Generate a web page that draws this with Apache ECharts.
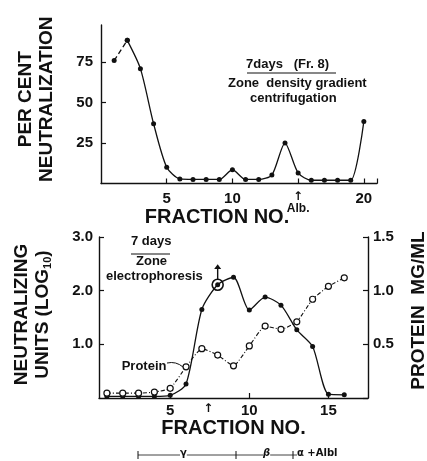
<!DOCTYPE html>
<html>
<head>
<meta charset="utf-8">
<script src="https://cdn.jsdelivr.net/npm/echarts@6/dist/echarts.min.js"></script>
<style>
  html, body { margin: 0; padding: 0; background: #fff; }
  #chart { width: 427px; height: 461px; }
</style>
</head>
<body>
<div id="chart"></div>
<script>
// top panel: zone density gradient centrifugation
var topFractions = [1, 2, 3, 4, 5, 6, 7, 8, 9, 10, 11, 12, 13, 14, 15, 16, 17, 18, 19, 20];
var topNeutral = [76, 88.5, 71, 37, 10, 2.8, 2.5, 2.5, 2.5, 8.5, 2.5, 2.5, 5.2, 25, 6.5, 2, 2, 2, 2, 38.4];
var topYTicks = [25, 50, 75];
var topXTicks = [5, 10, 15, 20];

// bottom panel: zone electrophoresis
var botFractions = [1, 2, 3, 4, 5, 6, 7, 8, 9, 10, 11, 12, 13, 14, 15, 16];
var neutUnits = [0.03, 0.03, 0.03, 0.03, 0.05, 0.26, 1.65, 2.11, 2.25, 1.64, 1.88, 1.73, 1.27, 0.96, 0.07, 0.06];
var protein = [0.045, 0.045, 0.045, 0.055, 0.09, 0.29, 0.46, 0.4, 0.3, 0.485, 0.67, 0.64, 0.71, 0.92, 1.04, 1.12];
var botXTicks = [5, 10, 15];
var arrowFraction = 7.4;

var FONT = 'Liberation Sans';
var INK = '#111';

function pairs(xs, ys) {
    return xs.map(function (x, i) { return [x, ys[i]]; });
}

var chart = echarts.init(document.getElementById('chart'));

var axisBase = {
    axisLine: { show: true, lineStyle: { color: INK, width: 1.4 } },
    axisTick: { show: true, inside: true, length: 5, lineStyle: { color: INK, width: 1.2 } },
    splitLine: { show: false }
};

var topData = pairs(topFractions, topNeutral);
var botNeut = pairs(botFractions, neutUnits);
var botProt = pairs(botFractions, protein);

// label "Protein" hanging off fraction 6
botProt[5] = {
    value: botProt[5],
    label: {
        show: true, position: 'left', distance: 16,
        formatter: 'Protein', fontFamily: FONT, fontSize: 13, fontWeight: 'bold', color: INK
    }
};

var option = {
    backgroundColor: '#fff',
    animation: false,
    grid: [
        { left: 101, top: 25, width: 276, height: 158.5, outerBoundsMode: 'none' },
        { left: 99, top: 237, width: 269, height: 161, outerBoundsMode: 'none' }
    ],
    xAxis: [
        Object.assign({}, axisBase, {
            type: 'value', gridIndex: 0, min: 0, max: 21,
            axisTick: Object.assign({}, axisBase.axisTick, { customValues: topXTicks.concat([21]) }),
            axisLabel: {
                customValues: topXTicks, margin: 8,
                fontFamily: FONT, fontSize: 15, fontWeight: 'bold', color: INK,
                formatter: function (v) {
                    if (v === 15) return '{a|↑}\n{b|Alb.}';
                    return String(v);
                },
                rich: {
                    a: { fontSize: 12, fontWeight: 'bold', color: INK, lineHeight: 11, fontFamily: 'DejaVu Sans' },
                    b: { fontSize: 12, fontWeight: 'bold', color: INK, fontFamily: FONT, lineHeight: 13 }
                }
            },
            name: 'FRACTION NO.', nameLocation: 'middle', nameGap: 24, nameMoveOverlap: false,
            nameTextStyle: { fontFamily: FONT, fontSize: 20, fontWeight: 'bold', color: INK, padding: [0, 44, 0, 0] }
        }),
        Object.assign({}, axisBase, {
            type: 'value', gridIndex: 1, min: 0.5, max: 17.5,
            axisTick: Object.assign({}, axisBase.axisTick, { customValues: botXTicks }),
            axisLabel: {
                customValues: [5, arrowFraction, 10, 15], margin: 5,
                fontFamily: FONT, fontSize: 15, fontWeight: 'bold', color: INK,
                formatter: function (v) {
                    if (v === arrowFraction) return '{a|↑}';
                    return String(v);
                },
                rich: { a: { fontSize: 12, fontWeight: 'bold', color: INK, fontFamily: 'DejaVu Sans' } }
            },
            name: 'FRACTION NO.', nameLocation: 'middle', nameGap: 20,
            nameTextStyle: { fontFamily: FONT, fontSize: 20, fontWeight: 'bold', color: INK }
        })
    ],
    yAxis: [
        Object.assign({}, axisBase, {
            type: 'value', gridIndex: 0, min: 0, max: 98,
            axisTick: Object.assign({}, axisBase.axisTick, { customValues: topYTicks }),
            axisLabel: {
                customValues: topYTicks, margin: 8,
                fontFamily: FONT, fontSize: 15, fontWeight: 'bold', color: INK
            },
            name: 'PER CENT\nNEUTRALIZATION', nameLocation: 'middle', nameGap: 44, nameRotate: 90,
            nameTextStyle: { fontFamily: FONT, fontSize: 19, fontWeight: 'bold', color: INK, lineHeight: 21, padding: [0, 0, 0, 10] }
        }),
        Object.assign({}, axisBase, {
            type: 'value', gridIndex: 1, min: 0, max: 3, interval: 1,
            axisLabel: {
                fontFamily: FONT, fontSize: 15, fontWeight: 'bold', color: INK, margin: 6,
                showMinLabel: false,
                formatter: function (v) { return v === 0 ? '' : v.toFixed(1); }
            },
            name: '{t|NEUTRALIZING}\n{t|UNITS (LOG}{s|10}{t|)}', nameLocation: 'middle', nameGap: 46, nameRotate: 90,
            nameTextStyle: {
                rich: {
                    t: { fontFamily: FONT, fontSize: 19, fontWeight: 'bold', color: INK, lineHeight: 21 },
                    s: { fontFamily: FONT, fontSize: 11, fontWeight: 'bold', color: INK, verticalAlign: 'bottom', lineHeight: 21, padding: [6, 0, 0, 0] }
                },
                padding: [0, 0, 0, 6]
            }
        }),
        Object.assign({}, axisBase, {
            type: 'value', gridIndex: 1, min: 0, max: 1.5, interval: 0.5, position: 'right',
            axisLabel: {
                fontFamily: FONT, fontSize: 15, fontWeight: 'bold', color: INK, margin: 5,
                formatter: function (v) { return v === 0 ? '' : v.toFixed(1); }
            },
            name: 'PROTEIN  MG/ML', nameLocation: 'middle', nameGap: 41, nameRotate: 90,
            nameTextStyle: { fontFamily: FONT, fontSize: 19, fontWeight: 'bold', color: INK, padding: [0, 0, 0, 14] }
        })
    ],
    series: [
        {
            name: 'Neutralization', type: 'line', xAxisIndex: 0, yAxisIndex: 0,
            data: topData.slice(1), smooth: 0.25,
            symbol: 'circle', symbolSize: 5,
            lineStyle: { color: INK, width: 1.3 }, itemStyle: { color: INK }
        },
        {
            name: 'Neutralization (start)', type: 'line', xAxisIndex: 0, yAxisIndex: 0,
            data: topData.slice(0, 2),
            symbol: 'circle', symbolSize: 5,
            lineStyle: { color: INK, width: 1.3, type: [5, 3] }, itemStyle: { color: INK }
        },
        {
            name: 'Neutralizing units', type: 'line', xAxisIndex: 1, yAxisIndex: 1,
            data: botNeut, smooth: 0.25,
            symbol: 'circle', symbolSize: 5,
            lineStyle: { color: INK, width: 1.3 }, itemStyle: { color: INK },
            markPoint: {
                label: { show: false },
                data: [
                    {   // ring round fraction 8
                        coord: [botFractions[7], neutUnits[7]],
                        symbol: 'circle', symbolSize: 11,
                        itemStyle: { color: 'rgba(0,0,0,0)', borderColor: INK, borderWidth: 1.6 }
                    },
                    {   // arrow up from fraction 8
                        coord: [botFractions[7], neutUnits[7]],
                        symbol: 'path://M5 0 L10 7 L6 7 L6 22 L4 22 L4 7 L0 7 Z',
                        symbolSize: [7, 15], symbolOffset: [0, -13],
                        itemStyle: { color: INK }
                    }
                ]
            },
            z: 3
        },
        {
            name: 'Protein', type: 'line', xAxisIndex: 1, yAxisIndex: 2,
            data: botProt, smooth: 0.15,
            symbol: 'circle', symbolSize: 6,
            lineStyle: { color: INK, width: 1.1, type: [4, 2, 1, 2] },
            itemStyle: { color: '#fff', borderColor: INK, borderWidth: 1.2 },
            z: 4
        }
    ],
    graphic: [
        // top annotation
        { type: 'text', left: 246, top: 58, style: { text: '7days   (Fr. 8)', font: 'bold 13px "Liberation Sans"', fill: INK } },
        { type: 'line', shape: { x1: 247, y1: 73, x2: 336, y2: 73 }, style: { stroke: INK, lineWidth: 1.2 } },
        { type: 'text', left: 228, top: 77, style: { text: 'Zone  density gradient', font: 'bold 13px "Liberation Sans"', fill: INK } },
        { type: 'text', left: 250, top: 92, style: { text: 'centrifugation', font: 'bold 13px "Liberation Sans"', fill: INK } },
        // bottom annotation
        { type: 'text', left: 131, top: 235, style: { text: '7 days', font: 'bold 13px "Liberation Sans"', fill: INK } },
        { type: 'line', shape: { x1: 131, y1: 254, x2: 170, y2: 254 }, style: { stroke: INK, lineWidth: 1.2 } },
        { type: 'text', left: 136, top: 255, style: { text: 'Zone', font: 'bold 13px "Liberation Sans"', fill: INK } },
        { type: 'text', left: 106, top: 270, style: { text: 'electrophoresis', font: 'bold 13px "Liberation Sans"', fill: INK } },
        // leader from the "Protein" label
        { type: 'bezierCurve', shape: { x1: 167, y1: 363, cpx1: 176, cpy1: 361, x2: 183, y2: 367 }, style: { stroke: INK, lineWidth: 1, fill: 'none' } },
        // mobility scale under the bottom axis
        { type: 'line', shape: { x1: 138, y1: 455, x2: 298, y2: 455 }, style: { stroke: INK, lineWidth: 0.8 } },
        { type: 'line', shape: { x1: 138, y1: 451, x2: 138, y2: 459 }, style: { stroke: INK, lineWidth: 1 } },
        { type: 'line', shape: { x1: 236, y1: 451, x2: 236, y2: 459 }, style: { stroke: INK, lineWidth: 1 } },
        { type: 'line', shape: { x1: 293, y1: 451, x2: 293, y2: 459 }, style: { stroke: INK, lineWidth: 1 } },
        { type: 'text', left: 180, top: 448, style: { text: 'γ', font: 'bold 10px "DejaVu Sans"', fill: INK, backgroundColor: '#fff' } },
        { type: 'text', left: 263, top: 448, style: { text: 'β', font: 'bold italic 10px "DejaVu Sans"', fill: INK, backgroundColor: '#fff' } },
        { type: 'text', left: 297, top: 448, style: { text: 'α +Albl', font: 'bold 10px "DejaVu Sans"', fill: INK, backgroundColor: '#fff' } }
    ]
};

chart.setOption(option);
</script>
</body>
</html>
